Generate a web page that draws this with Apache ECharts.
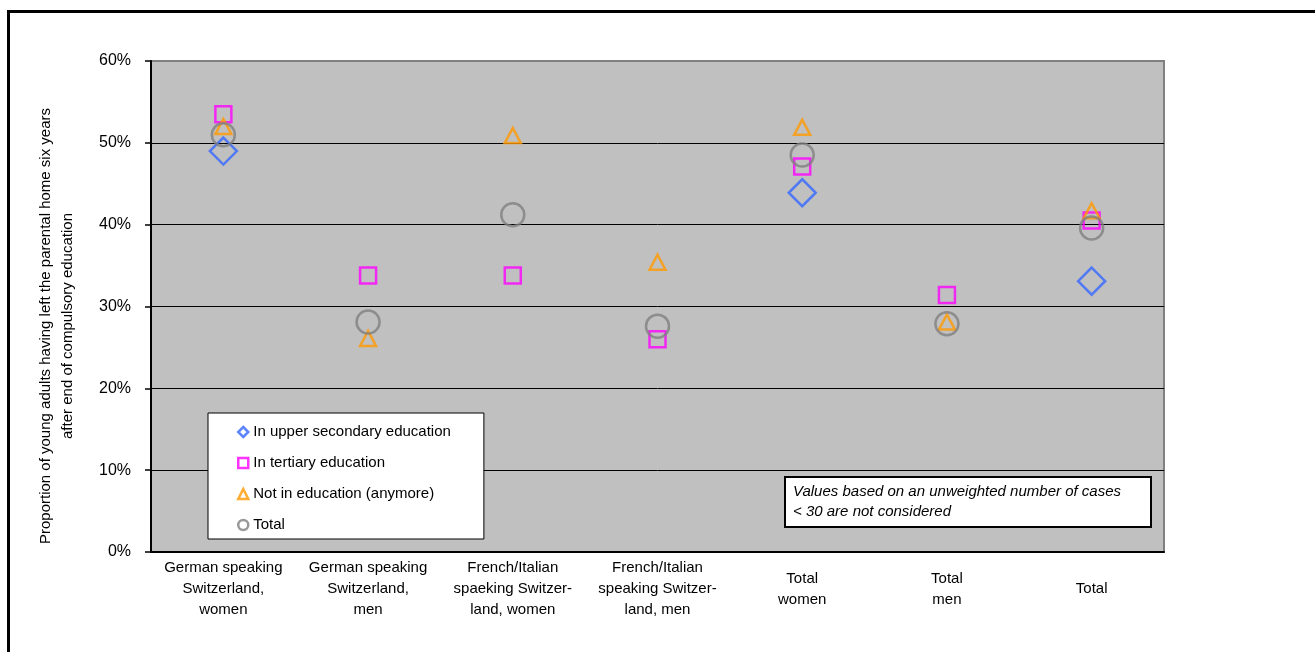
<!DOCTYPE html>
<html>
<head>
<meta charset="utf-8">
<script src="https://cdn.jsdelivr.net/npm/echarts@6/dist/echarts.min.js"></script>
<style>
html,body{margin:0;padding:0;background:#fff;}
#c{width:1315px;height:652px;}
</style>
</head>
<body>
<div id="c"></div>
<script>
var categories = [
  "German speaking\nSwitzerland,\nwomen",
  "German speaking\nSwitzerland,\nmen",
  "French/Italian\nspaeking Switzer-\nland, women",
  "French/Italian\nspeaking Switzer-\nland, men",
  "Total\nwomen",
  "Total\nmen",
  "Total"
];
var seriesNames = ["In upper secondary education", "In tertiary education", "Not in education (anymore)", "Total"];
var upperSecondary = [49.0, null, null, null, 43.9, null, 33.1];
var tertiary = [53.5, 33.8, 33.8, 26.0, 47.1, 31.4, 40.5];
var notInEducation = [52.0, 26.1, 50.9, 35.4, 51.9, 28.1, 41.7];
var total = [51.0, 28.1, 41.2, 27.6, 48.5, 27.9, 39.6];
var yTicks = [0, 10, 20, 30, 40, 50, 60];
var yAxisTitle = "Proportion of young adults having left the parental home six years\nafter end of compulsory education";
var noteText = "Values based on an unweighted number of cases\n< 30 are not considered";

var FONT = "'Liberation Sans', Arial, sans-serif";
var chart = echarts.init(document.getElementById('c'), null, {renderer: 'canvas'});

function mk(name, data, symbol, size, color) {
  return {
    name: name, type: 'scatter', data: data, symbol: symbol, symbolSize: size,
    itemStyle: {color: 'rgba(0,0,0,0)', borderColor: color, borderWidth: 2.5},
    emphasis: {disabled: true}, silent: true
  };
}

var option = {
  animation: false,
  textStyle: {fontFamily: FONT},
  grid: {left: 151, right: 151, top: 61, bottom: 100, show: true, backgroundColor: '#c0c0c0', borderColor: '#808080', borderWidth: 2},
  xAxis: {
    type: 'category', data: categories, boundaryGap: true,
    axisLine: {lineStyle: {color: '#000', width: 2}},
    axisTick: {show: false},
    axisLabel: {color: '#000', fontSize: 15, fontFamily: FONT, lineHeight: 21, verticalAlign: 'middle', margin: 37, interval: 0}
  },
  yAxis: {
    type: 'value', min: yTicks[0], max: yTicks[yTicks.length - 1], interval: 10,
    axisLine: {show: true, lineStyle: {color: '#000', width: 2}},
    axisTick: {show: true, length: 6, lineStyle: {color: '#000', width: 1.5}},
    axisLabel: {color: '#000', fontSize: 16, fontFamily: FONT, margin: 20, formatter: '{value}%'},
    splitLine: {show: true, lineStyle: {color: ['#000', '#000', '#000', '#000', '#000', '#000', '#808080'], width: 1}}
  },
  legend: {
    orient: 'vertical', left: 208, top: 413,
    backgroundColor: '#fff', borderColor: '#000', borderWidth: 1,
    padding: [10, 33, 5, 29],
    itemWidth: 10, itemHeight: 10, itemGap: 13,
    itemStyle: {borderWidth: 2.5},
    textStyle: {color: '#000', fontSize: 15, fontFamily: FONT, lineHeight: 18},
    data: seriesNames
  },
  graphic: [
    {type: 'rect', shape: {x: 8.5, y: 11.5, width: 1400, height: 800}, style: {fill: null, stroke: '#000', lineWidth: 3}, silent: true, z: 100},
    {type: 'text', x: 57, y: 326, rotation: Math.PI / 2,
      style: {text: yAxisTitle, fill: '#000', font: '15px ' + FONT, align: 'center', verticalAlign: 'middle', lineHeight: 22}, silent: true},
    {type: 'rect', shape: {x: 785, y: 477, width: 366, height: 50}, style: {fill: '#fff', stroke: '#000', lineWidth: 2}, z: 50, silent: true},
    {type: 'text', x: 793, y: 502, z: 51,
      style: {text: noteText, fill: '#000', font: 'italic 15px ' + FONT, align: 'left', verticalAlign: 'middle', lineHeight: 20}, silent: true}
  ],
  series: [
    mk(seriesNames[0], upperSecondary, 'diamond', 27, '#3366ff'),
    mk(seriesNames[1], tertiary, 'rect', 16, '#ff00ff'),
    mk(seriesNames[2], notInEducation, 'triangle', [16, 15], '#ff9900'),
    mk(seriesNames[3], total, 'circle', 23, '#808080')
  ]
};
chart.setOption(option);
</script>
</body>
</html>
